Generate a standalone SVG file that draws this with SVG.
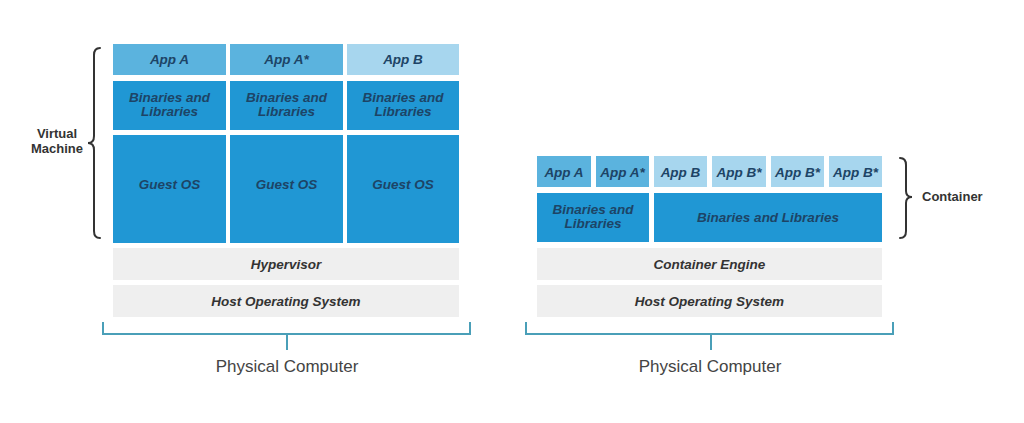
<svg xmlns="http://www.w3.org/2000/svg" width="1024" height="423" viewBox="0 0 1024 423">
<style>
.appA{fill:#5BB3DE}
.appB{fill:#A7D6EE}
.dark{fill:#2097D4}
.gray{fill:#EFEFEF}
.t{font-family:"Liberation Sans",Arial,sans-serif;font-weight:bold;font-style:italic;font-size:13.5px;text-anchor:middle}
.tb{fill:#1D4466}
.tg{fill:#333333}
.lbl{font-family:"Liberation Sans",Arial,sans-serif;font-weight:bold;font-size:13px;fill:#333333}
.pc{font-family:"Liberation Sans",Arial,sans-serif;font-size:17px;fill:#444444;text-anchor:middle}
.br{fill:none;stroke:#333333;stroke-width:2;stroke-linecap:round}
.pb{fill:none;stroke:#4A9FB8;stroke-width:2}
</style>
<rect width="1024" height="423" fill="#FFFFFF"/>

<!-- Left: Virtual Machines -->
<g id="vm-appA"><rect class="appA" x="113" y="44" width="113" height="31"/><text class="t tb" x="169.5" y="64">App A</text></g>
<g id="vm-appAstar"><rect class="appA" x="230" y="44" width="113" height="31"/><text class="t tb" x="286.5" y="64">App A*</text></g>
<g id="vm-appB"><rect class="appB" x="347" y="44" width="112" height="31"/><text class="t tb" x="403" y="64">App B</text></g>

<g id="vm-bin1"><rect class="dark" x="113" y="81" width="113" height="49"/><text class="t tb" x="169.5" y="102">Binaries and</text><text class="t tb" x="169.5" y="116">Libraries</text></g>
<g id="vm-bin2"><rect class="dark" x="230" y="81" width="113" height="49"/><text class="t tb" x="286.5" y="102">Binaries and</text><text class="t tb" x="286.5" y="116">Libraries</text></g>
<g id="vm-bin3"><rect class="dark" x="347" y="81" width="112" height="49"/><text class="t tb" x="403" y="102">Binaries and</text><text class="t tb" x="403" y="116">Libraries</text></g>

<g id="vm-os1"><rect class="dark" x="113" y="135" width="113" height="108"/><text class="t tb" x="169.5" y="189">Guest OS</text></g>
<g id="vm-os2"><rect class="dark" x="230" y="135" width="113" height="108"/><text class="t tb" x="286.5" y="189">Guest OS</text></g>
<g id="vm-os3"><rect class="dark" x="347" y="135" width="112" height="108"/><text class="t tb" x="403" y="189">Guest OS</text></g>

<g id="hypervisor"><rect class="gray" x="113" y="248" width="346" height="32"/><text class="t tg" x="286" y="269">Hypervisor</text></g>
<g id="vm-hostos"><rect class="gray" x="113" y="285" width="346" height="32"/><text class="t tg" x="286" y="306">Host Operating System</text></g>

<g id="vm-brace">
<path class="br" d="M100,48 Q94,48 94,55 L94,136 Q94,143 88,143 Q94,143 94,150 L94,231 Q94,238 100,238"/>
<text class="lbl" x="57" y="138" text-anchor="middle">Virtual</text>
<text class="lbl" x="57" y="153" text-anchor="middle">Machine</text>
</g>

<g id="vm-physical">
<path class="pb" d="M103,322 L103,334 L470,334 L470,322 M287,334 L287,350"/>
<text class="pc" x="287" y="372">Physical Computer</text>
</g>

<!-- Right: Containers -->
<g id="c-appA"><rect class="appA" x="537" y="156" width="54" height="31"/><text class="t tb" x="564" y="177">App A</text></g>
<g id="c-appAstar"><rect class="appA" x="596" y="156" width="53" height="31"/><text class="t tb" x="622.5" y="177">App A*</text></g>
<g id="c-appB"><rect class="appB" x="654" y="156" width="53" height="31"/><text class="t tb" x="680.5" y="177">App B</text></g>
<g id="c-appB1"><rect class="appB" x="712" y="156" width="54" height="31"/><text class="t tb" x="739" y="177">App B*</text></g>
<g id="c-appB2"><rect class="appB" x="771" y="156" width="53" height="31"/><text class="t tb" x="797.5" y="177">App B*</text></g>
<g id="c-appB3"><rect class="appB" x="829" y="156" width="53" height="31"/><text class="t tb" x="855.5" y="177">App B*</text></g>

<g id="c-bin1"><rect class="dark" x="537" y="193" width="112" height="49"/><text class="t tb" x="593" y="214">Binaries and</text><text class="t tb" x="593" y="228">Libraries</text></g>
<g id="c-bin2"><rect class="dark" x="654" y="193" width="228" height="49"/><text class="t tb" x="768" y="222">Binaries and Libraries</text></g>

<g id="engine"><rect class="gray" x="537" y="248" width="345" height="32"/><text class="t tg" x="709.5" y="269">Container Engine</text></g>
<g id="c-hostos"><rect class="gray" x="537" y="285" width="345" height="32"/><text class="t tg" x="709.5" y="306">Host Operating System</text></g>

<g id="c-brace">
<path class="br" d="M900,158 Q906,158 906,165 L906,191 Q906,197 912,197 Q906,197 906,203 L906,231 Q906,238 900,238"/>
<text class="lbl" x="922" y="201">Container</text>
</g>

<g id="c-physical">
<path class="pb" d="M526,322 L526,334 L893,334 L893,322 M711,334 L711,350"/>
<text class="pc" x="710" y="372">Physical Computer</text>
</g>
</svg>
